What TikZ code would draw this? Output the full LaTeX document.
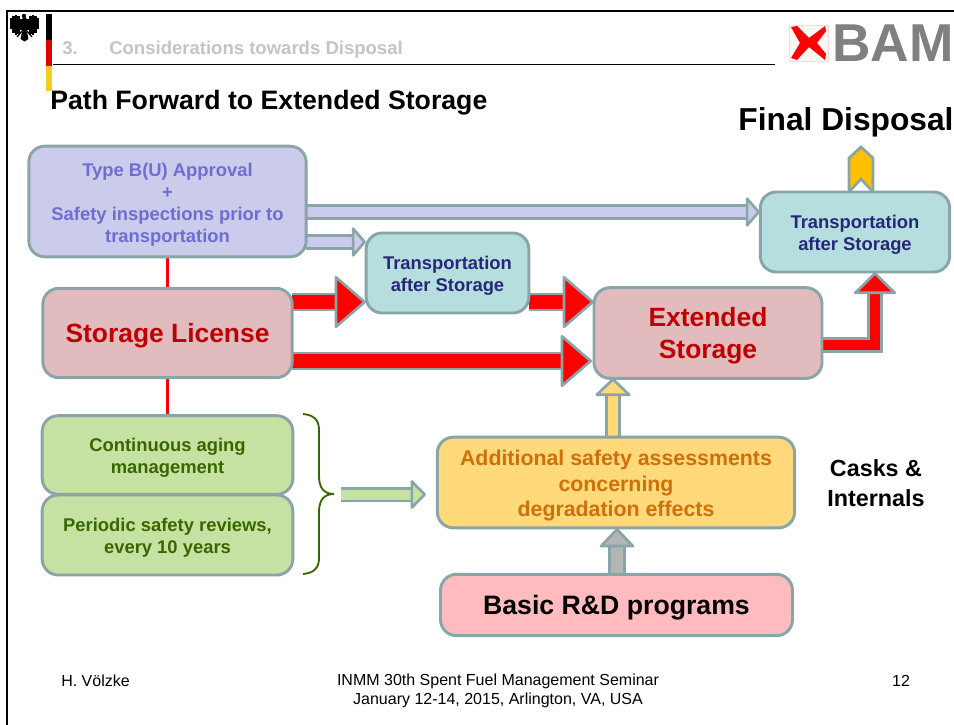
\documentclass[tikz,border=0pt]{standalone}
\usepackage{fontspec}
\setmainfont{Liberation Sans}
\usetikzlibrary{arrows.meta,backgrounds}
\definecolor{edgegray}{HTML}{8AA5A8}
\definecolor{lavfill}{HTML}{CBCBEC}
\definecolor{lavtext}{HTML}{6E6ED2}
\definecolor{tealfill}{HTML}{B6DEDF}
\definecolor{tealtext}{HTML}{27277A}
\definecolor{rosefill}{HTML}{E2BBBF}
\definecolor{redtext}{HTML}{C00000}
\definecolor{greenfill}{HTML}{C6E2A2}
\definecolor{greentext}{HTML}{3A6600}
\definecolor{goldfill}{HTML}{FFD97A}
\definecolor{goldtext}{HTML}{D0700A}
\definecolor{pinkfill}{HTML}{FFBBBE}
\definecolor{flagred}{HTML}{E00000}
\definecolor{flaggold}{HTML}{F5CC20}
\definecolor{headgray}{HTML}{C4C4C4}
\definecolor{logogray}{HTML}{808080}
\definecolor{chevron}{HTML}{FFC000}
\newcommand{\topgap}{\rule{0pt}{\dimexpr0.73em+4.5pt\relax}}
\tikzset{
  box/.style={draw=edgegray, line width=2.2pt, rounded corners=12pt, align=center, inner sep=0pt},
  smalltext/.style={font=\fontsize{13.8}{16.5}\selectfont\bfseries},
  bigtext/.style={font=\fontsize{19.8}{24}\selectfont\bfseries},
  blockarrow/.style n args={4}{draw=edgegray, line width=2pt, double=#1, double distance=#2,
    -{Triangle[length=#3, width=#4, fill=#1, line width=2pt, round=false]}},
  lavarrow/.style={blockarrow={lavfill}{7.5pt}{11pt}{25pt}},
  redarrow/.style={blockarrow={red}{10pt}{24pt}{41pt}},
  footer/.style={font=\fontsize{12}{14.25}\selectfont, align=center, inner sep=0pt}
}
\begin{document}
\begin{tikzpicture}[x=0.75pt,y=-0.75pt]
  \useasboundingbox (0,0) rectangle (954,725);
  % frame
  \draw [line width=1.8pt] (7,725) -- (7,11) -- (954,11);

  % eagle
  \foreach \x/\a/\b in {11/18/29, 13.5/16/33, 16/15/35, 18.5/16/34, 21/19/30}{
    \draw [line width=1.6pt] (\x,\a) -- (\x,\b);
    \draw [line width=1.6pt] (49-\x,\a) -- (49-\x,\b);
  }
  \fill (24.5,25) ellipse (3.5 and 8);
  \fill (24,16) circle (2.2);
  \fill (22,32) -- (27,32) -- (28.5,39) -- (24.5,41.5) -- (20.5,39) -- cycle;
  \draw [line width=1pt] (17,37) -- (22,31) (32,37) -- (27,31);

  % flag bar
  \fill (46,14) rectangle (52,40);
  \fill [flagred] (46,40) rectangle (52,66);
  \fill [flaggold] (46,66) rectangle (52,91);

  % header
  \node [anchor=base west, text=headgray, inner sep=0pt, font=\fontsize{13.9}{16}\selectfont\bfseries] (headnum) at (62,54) {3.};
  \node [anchor=base west, text=headgray, inner sep=0pt, font=\fontsize{13.9}{16}\selectfont\bfseries] (headtxt) at (109,54) {Considerations towards Disposal};
  \draw [line width=0.6pt] (53,64) -- (775,64);

  % logo
  \filldraw [fill=red!4, draw=red!15] (789,25) rectangle (828,61);
  \fill [red] (791,27) -- (797,26) -- (809,38) -- (825,26) -- (826,31) -- (817,43) -- (826,54) -- (825,60) -- (809,47) -- (797,60) -- (791,58) -- (800,43) -- cycle;
  \node [anchor=base west, text=logogray, inner sep=0pt, font=\fontsize{40}{40}\selectfont\bfseries] (logo) at (832,61) {BAM};

  % titles
  \node [anchor=base west, inner sep=0pt, font=\fontsize{20}{24}\selectfont\bfseries] (title) at (50,109) {Path Forward to Extended Storage};
  \node [anchor=base, inner sep=0pt, font=\fontsize{23.8}{28}\selectfont\bfseries] (final) at (846,130) {Final Disposal};

  % boxes
  \node [box, smalltext, fill=lavfill, text=lavtext, minimum width=208pt, minimum height=83pt] (approval) at (167.5,201.5) {\topgap Type B(U) Approval\\+\\Safety inspections prior to\\transportation};
  \node [box, smalltext, fill=tealfill, text=tealtext, minimum width=122pt, minimum height=60pt] (transfirst) at (447.5,273) {\topgap Transportation\\after Storage};
  \node [box, smalltext, fill=tealfill, text=tealtext, minimum width=142pt, minimum height=60pt] (transsecond) at (855,232) {\topgap Transportation\\after Storage};
  \node [box, bigtext, fill=rosefill, text=redtext, minimum width=187pt, minimum height=67pt] (license) at (167.5,333) {\topgap Storage License};
  \node [box, bigtext, fill=rosefill, text=redtext, minimum width=171pt, minimum height=68pt] (extended) at (708,333) {\topgap Extended\\Storage};
  \node [box, smalltext, fill=greenfill, text=greentext, minimum width=188pt, minimum height=59pt] (aging) at (167.5,455) {\topgap Continuous aging\\management};
  \node [box, smalltext, fill=greenfill, text=greentext, minimum width=188pt, minimum height=60pt] (reviews) at (167.5,535) {\topgap Periodic safety reviews,\\every 10 years};
  \node [box, fill=goldfill, text=goldtext, minimum width=268pt, minimum height=68pt, font=\fontsize{16}{19}\selectfont\bfseries] (assess) at (616,482.5) {\topgap Additional safety assessments\\concerning\\degradation effects};
  \node [box, fill=pinkfill, minimum width=264pt, minimum height=46pt, font=\fontsize{20}{24}\selectfont\bfseries] (basic) at (616.5,605) {\topgap Basic R\&D programs};
  \node [align=center, inner sep=0pt, font=\fontsize{17.5}{22}\selectfont\bfseries] (casks) at (876,483) {Casks \&\\Internals};

  % brace
  \draw [greentext, line width=1.4pt] (303,414) .. controls (314,415) and (319,420) .. (319,430) -- (319,476) .. controls (319,488) and (324,494) .. (334,494) .. controls (324,494) and (319,500) .. (319,512) -- (319,558) .. controls (319,568) and (314,573) .. (303,574);

  % arrows
  \coordinate (longstart) at (306,212);
  \coordinate (longend) at (760,212);
  \coordinate (shortstart) at (306,242);
  \coordinate (shortend) at (366,242);
  \coordinate (redastart) at (292,302);
  \coordinate (redaend) at (366,302);
  \coordinate (redbstart) at (529,302);
  \coordinate (redbend) at (594,302);
  \coordinate (redcstart) at (292,361);
  \coordinate (redcend) at (592,361);
  \coordinate (greenstart) at (341,494.5);
  \coordinate (greenend) at (426,494.5);
  \begin{pgfonlayer}{background}
    \draw [red, line width=2.25pt] (approval.south) -- (license.north);
    \draw [red, line width=2.25pt] (license.south) -- (aging.north);
    \draw [lavarrow] (longstart) -- (longend);
    \draw [lavarrow] (shortstart) -- (shortend);
    \draw [redarrow] (redastart) -- (redaend);
    \draw [redarrow] (redbstart) -- (redbend);
    \draw [redarrow] (redcstart) -- (redcend);
    \draw [blockarrow={red}{8pt}{17pt}{34pt}, line join=miter] (extended.east |- 0,345) -| (875,272);
    \draw [blockarrow={goldfill}{7.5pt}{14pt}{29pt}] (613,437) -- (613,378);
    \draw [blockarrow={black!29}{9.5pt}{15pt}{28pt}] (617,574) -- (617,528);
    \draw [blockarrow={greenfill}{7.5pt}{12pt}{24pt}] (greenstart) -- (greenend);
    \draw [draw=edgegray, line width=2pt, fill=chevron] (849,192) -- (849,158) -- (861,147) -- (873,158) -- (873,192) -- (861,179) -- cycle;
  \end{pgfonlayer}

  % footer
  \node [footer, anchor=base west] (author) at (61,686) {H. Völzke};
  \node [footer] (seminar) at (498,690.5) {INMM 30th Spent Fuel Management Seminar\\January 12-14, 2015, Arlington, VA, USA};
  \node [footer, anchor=base] (page) at (901,686) {12};
\end{tikzpicture}
\end{document}
